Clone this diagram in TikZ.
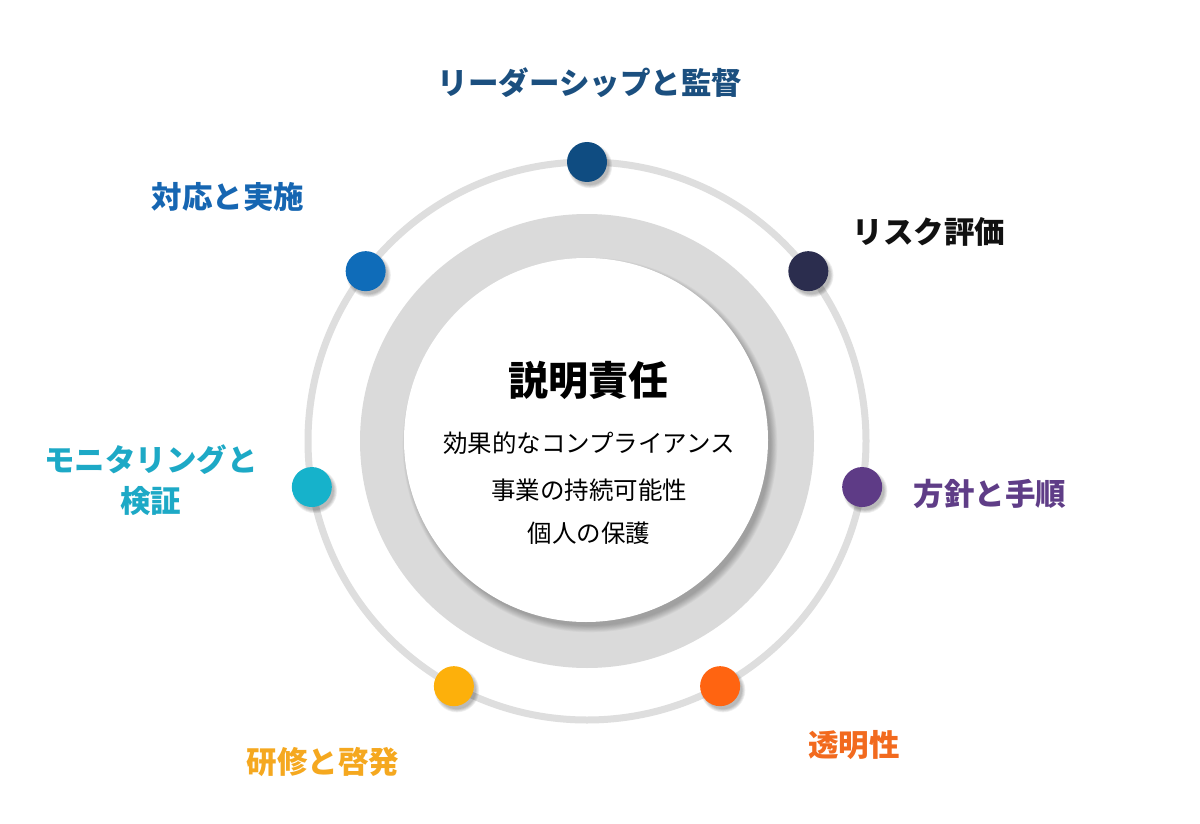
\documentclass[tikz,border=0pt]{standalone}
\usepackage{fontspec}
\setmainfont{Noto Sans CJK JP}
\usetikzlibrary{calc}
\definecolor{ringc}{HTML}{DEDEDE}
\definecolor{bandc}{HTML}{DADADA}
\definecolor{dA}{HTML}{0F4C81}\definecolor{lA}{HTML}{1B4F7F}
\definecolor{dB}{HTML}{2B2D4E}\definecolor{lB}{HTML}{111111}
\definecolor{dC}{HTML}{5E3B86}\definecolor{lC}{HTML}{5F3D87}
\definecolor{dD}{HTML}{FF6411}\definecolor{lD}{HTML}{F26A1E}
\definecolor{dE}{HTML}{FDB00B}\definecolor{lE}{HTML}{F5A81F}
\definecolor{dF}{HTML}{16B2CB}\definecolor{lF}{HTML}{1DA9C6}
\definecolor{dG}{HTML}{0F6CB9}\definecolor{lG}{HTML}{1666B2}
\begin{document}
\begin{tikzpicture}[x=1pt,y=-1pt,
  dot/.style={circle, minimum size=40pt, inner sep=0pt, draw=none},
  lbl/.style={font=\fontsize{30.5}{41}\selectfont\bfseries, inner sep=0pt, align=center},
  title/.style={font=\fontsize{40}{48}\selectfont\bfseries, inner sep=0pt},
  sub/.style={font=\fontsize{24.5}{30}\selectfont, inner sep=0pt}]
\useasboundingbox[fill=white] (0,0) rectangle (1200,824);
\coordinate (c) at (587,441);
% outer ring
\draw[ringc, line width=7pt] (c) circle[radius=279];
% thick gray band
\fill[bandc] (c) circle[radius=227];
% soft shadow of the white disk
\foreach \k in {0,...,7}{
  \fill[black, opacity=0.035] ($(c)+(3,4)$) circle[radius=181+\k*0.9];
}
\fill[white] ($(c)+(-1,-1)$) circle[radius=182];
% dots with soft shadows
\foreach \ang/\col/\nm in {90/dA/dtop, 37.5/dB/drisk, -9.5/dC/dpol, -61.5/dD/dtra, -118.5/dE/dtrn, 189.5/dF/dmon, 142.5/dG/dres}{
  \foreach \k in {0,...,4}{
    \fill[black, opacity=0.06] ($(c)+(-\ang:279)+(3,4)$) circle[radius=19+\k*0.8];
  }
  \node[dot, fill=\col] (\nm) at ($(c)+(-\ang:279)$) {};
}
% labels
\node[lbl, text=lA] (ltop) at (590,83) {リーダーシップと監督};
\node[lbl, text=lG] (lres) at (228,197) {対応と実施};
\node[lbl, text=lB] (lrisk) at (929,232) {リスク評価};
\node[lbl, text=lC] (lpol) at (990,494) {方針と手順};
\node[lbl, text=lF] (lmon) at (151,480) {モニタリングと\\検証};
\node[lbl, text=lE] (ltrn) at (323,762) {研修と啓発};
\node[lbl, text=lD] (ltra) at (854,745) {透明性};
% center texts
\node[title] (t0) at (588,380) {説明責任};
\node[sub] (t1) at (589,443) {効果的なコンプライアンス};
\node[sub] (t2) at (589,490) {事業の持続可能性};
\node[sub] (t3) at (589,533) {個人の保護};
\end{tikzpicture}
\end{document}
